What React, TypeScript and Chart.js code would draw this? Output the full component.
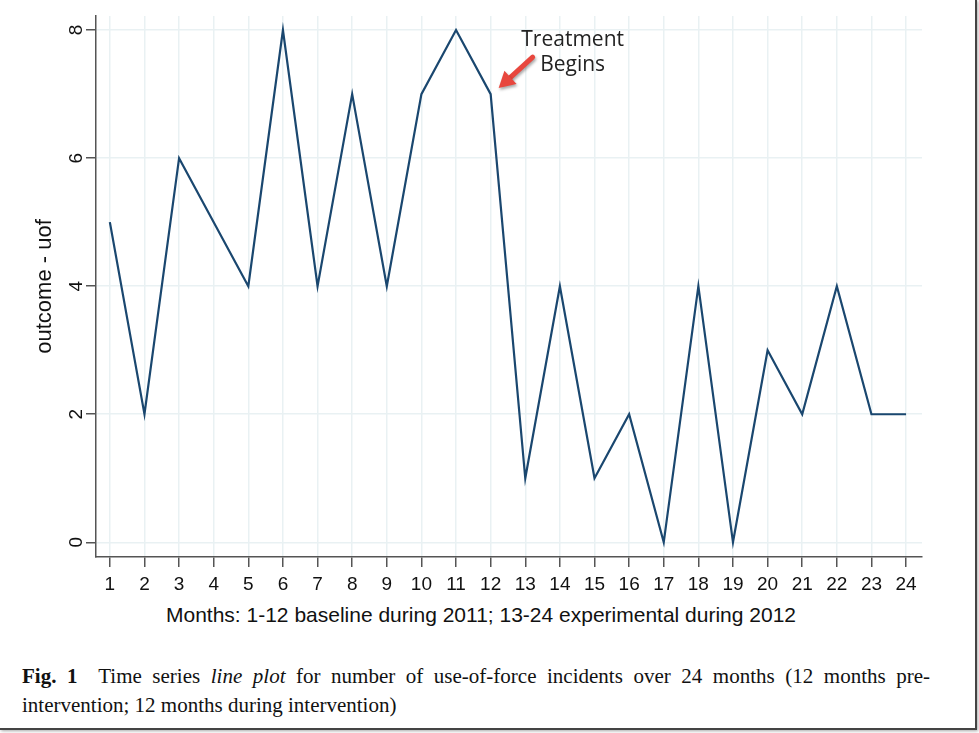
import { useEffect, useRef } from 'react'
import { Chart, registerables } from 'chart.js'

Chart.register(...registerables)

const months = [1, 2, 3, 4, 5, 6, 7, 8, 9, 10, 11, 12, 13, 14, 15, 16, 17, 18, 19, 20, 21, 22, 23, 24]
const uof = [5, 2, 6, 5, 4, 8, 4, 7, 4, 7, 8, 7, 1, 4, 1, 2, 0, 4, 0, 3, 2, 4, 2, 2]
const yTicks = [0, 2, 4, 6, 8]
const treatmentMonth = 12

const axisColor = '#555'
const gridColor = '#e9f1f3'

// red arrow + label pointing at the month treatment starts
const treatmentNote = {
  id: 'treatmentNote',
  afterDraw(chart: any) {
    const { ctx, scales } = chart
    const px = scales.x.getPixelForValue(treatmentMonth)
    const py = scales.y.getPixelForValue(uof[treatmentMonth - 1])
    ctx.save()
    ctx.font = '21px "Open Sans"'
    ctx.fillStyle = '#222'
    ctx.textAlign = 'center'
    ctx.textBaseline = 'middle'
    ctx.fillText('Treatment', px + 82, py - 54)
    ctx.fillText('Begins', px + 82, py - 29)

    const tipX = px + 8
    const tipY = py - 6
    const tailX = px + 42
    const tailY = py - 37
    const ang = Math.atan2(tipY - tailY, tipX - tailX)
    const headLen = 16
    const baseX = tipX - headLen * Math.cos(ang)
    const baseY = tipY - headLen * Math.sin(ang)
    ctx.shadowColor = 'rgba(0,0,0,0.35)'
    ctx.shadowBlur = 3
    ctx.shadowOffsetX = 1
    ctx.shadowOffsetY = 2
    ctx.strokeStyle = '#e8473e'
    ctx.fillStyle = '#e8473e'
    ctx.lineWidth = 5
    ctx.lineCap = 'round'
    ctx.beginPath()
    ctx.moveTo(tailX, tailY)
    ctx.lineTo(baseX, baseY)
    ctx.stroke()
    const nx = -Math.sin(ang) * 9
    const ny = Math.cos(ang) * 9
    ctx.beginPath()
    ctx.moveTo(tipX, tipY)
    ctx.lineTo(baseX + nx, baseY + ny)
    ctx.lineTo(baseX - nx, baseY - ny)
    ctx.closePath()
    ctx.fill()
    ctx.restore()
  }
}

const UofChart = () => {
  const chartRef = useRef<HTMLCanvasElement>(null)
  const chartInstance = useRef<Chart | null>(null)

  useEffect(() => {
    if (!chartRef.current) return
    if (chartInstance.current) chartInstance.current.destroy()

    chartInstance.current = new Chart(chartRef.current, {
      type: 'line',
      data: {
        datasets: [{
          label: 'outcome - uof',
          data: months.map((m, i) => ({ x: m, y: uof[i] })),
          borderColor: '#1a476f',
          borderWidth: 2.2,
          pointRadius: 0,
          tension: 0
        }]
      },
      options: {
        responsive: false,
        animation: false,
        layout: { padding: { top: 16, right: 53, left: 0, bottom: 0 } },
        plugins: {
          legend: { display: false },
          tooltip: { enabled: false }
        },
        scales: {
          x: {
            type: 'linear',
            min: 0.6,
            max: 24.46,
            afterBuildTicks: (scale: any) => {
              scale.ticks = months.map(v => ({ value: v }))
            },
            afterFit: (scale: any) => {
              scale.height = 43
              scale.paddingLeft = 0
              scale.paddingRight = 0
            },
            ticks: {
              color: '#111',
              padding: 6,
              font: { family: '"Liberation Sans", Arial', size: 19 },
              maxRotation: 0,
              autoSkip: false
            },
            grid: {
              color: gridColor,
              lineWidth: 1.5,
              tickColor: axisColor,
              tickLength: 10,
              tickWidth: 1.5
            },
            border: { color: axisColor, width: 1.5 }
          },
          y: {
            type: 'linear',
            min: -0.23,
            max: 8.22,
            afterBuildTicks: (scale: any) => {
              scale.ticks = yTicks.map(v => ({ value: v }))
            },
            afterFit: (scale: any) => {
              scale.width = 96
              scale.paddingTop = 0
              scale.paddingBottom = 0
            },
            ticks: {
              color: '#111',
              padding: 4,
              minRotation: 90,
              maxRotation: 90,
              crossAlign: 'center',
              font: { family: '"Liberation Sans", Arial', size: 19 }
            },
            grid: {
              color: gridColor,
              lineWidth: 1.5,
              tickColor: axisColor,
              tickLength: 10,
              tickWidth: 1.5
            },
            border: { color: axisColor, width: 1.5 },
            title: {
              display: true,
              text: 'outcome - uof',
              color: '#111',
              padding: { top: 32, bottom: 0 },
              font: { family: '"Liberation Sans", Arial', size: 22 }
            }
          }
        }
      },
      plugins: [treatmentNote]
    })

    return () => {
      if (chartInstance.current) {
        chartInstance.current.destroy()
        chartInstance.current = null
      }
    }
  }, [])

  return <canvas ref={chartRef} width={975} height={600} style={{ position: 'absolute', left: 0, top: 0 }} />
}

export default function App() {
  return (
    <div style={{
      position: 'absolute', left: 0, top: 0, width: 975, height: 728,
      background: '#fff', borderRight: '2px solid #444', borderBottom: '2px solid #444',
      boxShadow: '1px 1px 3px rgba(0,0,0,0.35)', overflow: 'hidden'
    }}>
      <UofChart />
      <div style={{
        position: 'absolute', left: 81, top: 602, width: 800, textAlign: 'center',
        fontFamily: '"Liberation Sans", Arial', fontSize: 21, lineHeight: '26px', color: '#111'
      }}>
        Months: 1-12 baseline during 2011; 13-24 experimental during 2012
      </div>
      <div style={{
        position: 'absolute', left: 22, top: 662, width: 908,
        fontFamily: '"Liberation Serif", "Times New Roman", serif', fontSize: 21, lineHeight: '29px', color: '#111'
      }}>
        <div style={{ textAlign: 'justify', textAlignLast: 'justify' }}>
          <b>Fig. 1</b>&nbsp; Time series <i>line plot</i> for number of use-of-force incidents over 24 months (12 months pre-
        </div>
        <div>intervention; 12 months during intervention)</div>
      </div>
    </div>
  )
}
